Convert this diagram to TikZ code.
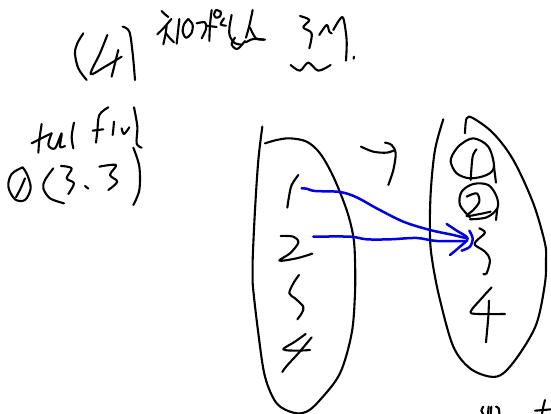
\documentclass[tikz,border=0pt]{standalone}
\tikzset{
  ink/.style={draw=black,line width=2.1pt,line cap=round,line join=round},
  blueink/.style={draw=blue!90!black,line width=2.5pt,line cap=round,line join=round},
}
\newcommand{\stk}[2][ink]{\draw[#1] plot[smooth,tension=0.55] coordinates {#2};}
\begin{document}
\begin{tikzpicture}[x=1pt,y=-1pt]
\useasboundingbox (0,0) rectangle (551,414);
% title
\begin{scope}[shift={(50,0)},scale=0.3333]
\stk{(100,100)(82,130)(75,160)(85,205)(110,240)}
\stk{(172,105)(150,160)(122,222)(165,200)(215,170)}
\stk{(205,150)(195,190)(185,230)}
\stk{(218,80)(238,95)(248,160)(255,240)}
\stk{(750,48)(778,60)(760,82)(785,100)(778,145)}
\stk{(808,105)(830,75)(838,95)(845,100)}
\stk{(850,90)(868,60)(880,55)(890,120)(888,182)}
\stk{(912,170)(911,176)}
\stk{(722,195)(750,212)(775,188)(805,212)(842,195)}
\end{scope}
\begin{scope}[shift={(150,5)},scale=0.3333]
\stk{(35,18)(45,28)(55,36)}
\stk{(22,88)(42,68)(64,42)}
\stk{(50,62)(46,90)(40,118)}
\stk{(48,85)(60,100)(72,112)}
\stk{(88,42)(84,80)(80,116)}
\stk{(115,42)(102,58)(98,80)(108,98)(124,85)(128,60)(115,42)}
\stk{(140,55)(165,52)(168,72)(155,100)}
\stk{(185,15)(180,60)(178,108)}
\stk{(168,62)(200,66)}
\stk{(198,15)(212,20)(210,34)(198,38)(192,28)(198,15)}
\stk{(222,40)(212,58)(228,62)}
\stk{(245,30)(238,70)(240,95)(255,115)(272,118)}
\stk{(255,98)(245,118)(262,132)(285,108)}
\stk{(308,15)(298,62)(288,98)}
\stk{(300,68)(318,100)(342,104)}
\stk{(288,112)(310,102)(345,104)}
\end{scope}
% tail fill (3.3)
\begin{scope}[shift={(0,100)},scale=0.3333]
\stk{(125,72)(118,120)(115,158)}
\stk{(95,130)(130,112)(155,100)}
\stk{(155,100)(145,135)(165,145)(185,100)(180,140)(195,138)}
\stk{(222,68)(215,110)(220,145)}
\stk{(325,22)(298,45)(292,95)(288,128)}
\stk{(278,92)(310,88)}
\stk{(342,65)(340,88)(338,105)}
\stk{(365,85)(372,102)(388,82)}
\stk{(402,22)(412,80)(410,130)(425,143)}
\stk{(68,202)(35,222)(25,260)(45,298)(75,300)(92,265)(82,225)(68,202)}
\stk{(75,235)(62,265)(48,292)}
\stk{(160,205)(135,240)(130,265)(150,295)(192,310)}
\stk{(183,198)(215,205)(200,235)(222,250)(205,282)}
\stk{(255,258)(265,266)}
\stk{(298,200)(348,195)(330,225)(352,245)(325,270)}
\stk{(400,143)(418,200)(418,270)(400,315)}
\end{scope}
% left blob, right blob, numerals
\begin{scope}[shift={(240,110)},scale=0.3333]
\stk{(67,50)(55,150)(45,300)(38,450)(38,520)(55,670)(75,800)(110,880)(160,908)(200,905)(240,870)(300,790)(335,670)(345,550)(345,450)(340,380)(320,300)(280,200)(240,130)(200,95)(150,85)(110,90)(75,100)}
\stk{(610,28)(585,120)(572,250)(570,380)(578,460)(600,570)(640,710)(690,775)(750,800)(790,790)(840,730)(890,640)(915,520)(918,450)(915,400)(880,280)(820,150)(760,70)(700,25)(680,25)(675,70)}
\stk{(363,110)(400,125)(440,128)(465,120)}
\stk{(435,98)(455,105)(467,130)(460,180)(445,225)}
\stk{(175,195)(155,225)(147,260)(142,293)}
\stk{(122,378)(160,380)(175,398)(150,430)(118,452)(170,445)(217,431)}
\stk{(710,118)(698,140)(692,210)}
\stk{(640,130)(632,155)(650,190)(690,205)(740,195)(762,170)(745,110)(700,85)(660,105)(640,130)}
\stk{(762,170)(768,218)}
\stk{(680,260)(710,250)(718,275)(700,300)(680,318)(720,312)(752,305)}
\stk{(690,322)(660,285)(665,245)(700,222)(745,225)(770,260)(772,295)(740,322)(690,328)}
\stk{(772,295)(768,330)}
\stk{(718,355)(735,368)(710,392)(705,405)(735,425)(750,450)(740,490)(730,492)}
% left ellipsis and 4
\stk{(177,495)(160,520)(148,550)(165,565)(190,590)(185,610)(172,628)}
\stk{(197,672)(165,695)(130,718)(170,722)(210,720)}
\stk{(215,682)(175,730)(140,768)(127,786)}
% right 4
\stk{(755,532)(725,565)(692,605)(715,612)(795,612)}
\stk{(747,572)(745,620)(738,697)}
% blue arrows
\stk[blueink]{(185,235)(200,236)(225,243)(300,246)(350,262)(410,295)(490,335)(570,360)(640,375)(680,385)}
\stk[blueink]{(220,380)(330,380)(380,388)(450,388)(530,384)(590,393)(680,393)}
\stk[blueink]{(620,342)(650,362)(683,385)(660,410)(630,435)}
\stk[blueink]{(688,362)(698,385)(690,410)(665,422)}
\end{scope}
% fragment at the bottom right
\begin{scope}[shift={(470,390)},scale=0.3333]
\stk{(40,72)(34,62)(40,50)}
\stk{(56,50)(54,72)}
\stk{(64,50)(62,72)}
\stk{(78,50)(86,55)(88,72)}
\stk{(225,30)(220,50)(216,72)}
\stk{(195,62)(220,60)(243,58)}
\end{scope}
\end{tikzpicture}
\end{document}
